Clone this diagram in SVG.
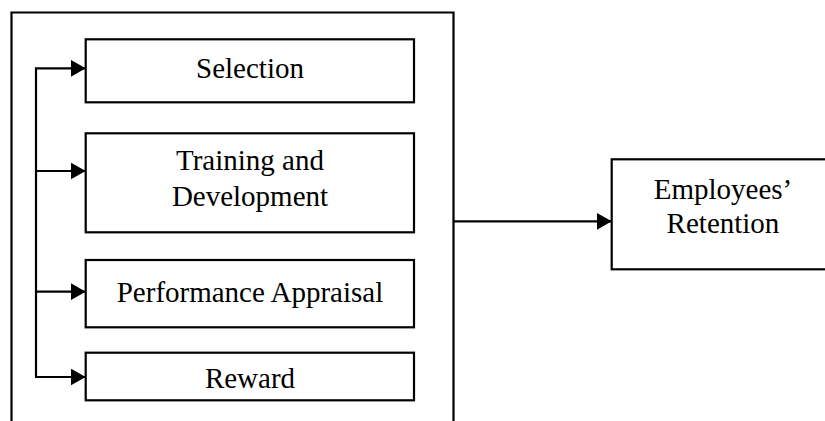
<svg xmlns="http://www.w3.org/2000/svg" width="825" height="421" viewBox="0 0 825 421">
<style>
.box{fill:#fff;stroke:#000;stroke-width:2.2}
.ln{fill:none;stroke:#000;stroke-width:2.2}
.t{font-family:"Liberation Serif","Times New Roman",serif;font-size:29px;fill:#000;text-anchor:middle}
</style>
<defs>
<marker id="ah" markerUnits="userSpaceOnUse" markerWidth="16" markerHeight="17" refX="15" refY="8.5" orient="auto">
<path d="M0,0 L15,8.5 L0,17 Z" fill="#000"/>
</marker>
</defs>
<rect width="825" height="421" fill="#fff"/>
<g id="outer"><path class="ln" d="M11.5,421 V12.5 H453.5 V421"/></g>
<g id="selection"><rect class="box" x="85.7" y="39.3" width="328.3" height="63"/><text class="t" x="250" y="78">Selection</text></g>
<g id="training"><rect class="box" x="85.7" y="133.3" width="328.3" height="99"/><text class="t" x="250" y="170">Training and</text><text class="t" x="250" y="205.5">Development</text></g>
<g id="performance"><rect class="box" x="85.7" y="260" width="328.3" height="67.3"/><text class="t" x="250" y="302">Performance Appraisal</text></g>
<g id="reward"><rect class="box" x="85.7" y="352.7" width="328.3" height="47.6"/><text class="t" x="250" y="388">Reward</text></g>
<g id="retention"><rect class="box" x="611.7" y="159.3" width="220" height="110"/><text class="t" x="723" y="199">Employees’</text><text class="t" x="723" y="233">Retention</text></g>
<g id="connectors">
<path class="ln" d="M36,68.3 V377"/>
<path class="ln" d="M35,68.3 H85.7" marker-end="url(#ah)"/>
<path class="ln" d="M36,171 H85.7" marker-end="url(#ah)"/>
<path class="ln" d="M36,291.7 H85.7" marker-end="url(#ah)"/>
<path class="ln" d="M35,377 H85.7" marker-end="url(#ah)"/>
<path class="ln" d="M453.5,221.3 H611.7" marker-end="url(#ah)"/>
</g>
</svg>
